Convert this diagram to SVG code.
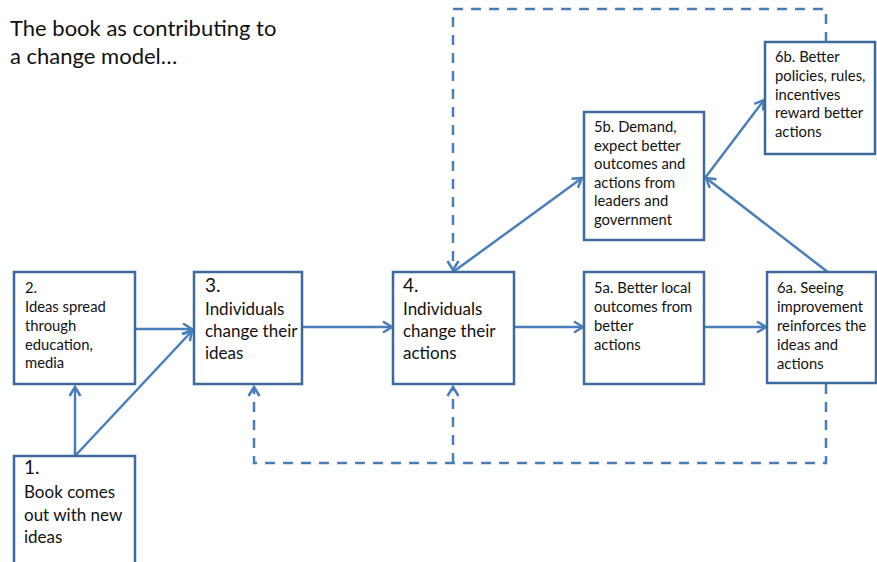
<svg xmlns="http://www.w3.org/2000/svg" width="877" height="562" viewBox="0 0 877 562">
<defs>
<marker id="ah" markerUnits="userSpaceOnUse" markerWidth="14" markerHeight="14" viewBox="0 0 14 14" refX="11" refY="7" orient="auto">
<path d="M2,1.5 L11,7 L2,12.5" fill="none" stroke="#4a7ebb" stroke-width="2.5" stroke-linejoin="miter"/>
</marker>
</defs>
<style>
.box{fill:#fff;stroke:#3c6a9c;stroke-width:2.5}
.c{fill:none;stroke:#4a7ebb;stroke-width:2.5}
.d{fill:none;stroke:#4a7ebb;stroke-width:2.5;stroke-dasharray:10 8}
text{font-family:Lato,"Open Sans","Liberation Sans",sans-serif;fill:#111}
.t{font-size:22px}
.l{font-size:17px}
.n{font-size:19px}
.s{font-size:14.8px}
</style>
<rect width="877" height="562" fill="#fff"/>
<text class="t" x="10" y="36">The book as contributing to</text>
<text class="t" x="10" y="64">a change model…</text>

<g id="connectors">
<path class="c" d="M75,456 L75,387" marker-end="url(#ah)"/>
<path class="c" d="M75,456 L192,331" marker-end="url(#ah)"/>
<path class="c" d="M135,329 L192,329" marker-end="url(#ah)"/>
<path class="c" d="M302,327 L392,327" marker-end="url(#ah)"/>
<path class="c" d="M514,327 L583,327" marker-end="url(#ah)"/>
<path class="c" d="M704,327 L766,327" marker-end="url(#ah)"/>
<path class="c" d="M453,272 L582,178" marker-end="url(#ah)"/>
<path class="c" d="M705,178 L764,100" marker-end="url(#ah)"/>
<path class="c" d="M829,273 L706,178" marker-end="url(#ah)"/>
<path class="d" d="M826,42 L826,9 L453,9 L453,270" marker-end="url(#ah)"/>
<path class="d" d="M826,384 L826,463 L254,463 L254,387" marker-end="url(#ah)"/>
<path class="d" d="M453,463 L453,387" marker-end="url(#ah)"/>
</g>

<g id="n1">
<rect class="box" x="14" y="456" width="121" height="120"/>
<text class="n" x="24" y="474">1.</text>
<text class="l" x="24" y="498">Book comes</text>
<text class="l" x="24" y="521">out with new</text>
<text class="l" x="24" y="543">ideas</text>
</g>
<g id="n2">
<rect class="box" x="14" y="272" width="121" height="112"/>
<text class="s" x="25" y="293">2.</text>
<text class="s" x="25" y="312">Ideas spread</text>
<text class="s" x="25" y="331">through</text>
<text class="s" x="25" y="350">education,</text>
<text class="s" x="25" y="368">media</text>
</g>
<g id="n3">
<rect class="box" x="194" y="272" width="108" height="112"/>
<text class="n" x="205" y="292">3.</text>
<text class="l" x="205" y="315">Individuals</text>
<text class="l" x="205" y="337">change their</text>
<text class="l" x="205" y="359">ideas</text>
</g>
<g id="n4">
<rect class="box" x="393" y="272" width="121" height="112"/>
<text class="n" x="403" y="292">4.</text>
<text class="l" x="403" y="315">Individuals</text>
<text class="l" x="403" y="337">change their</text>
<text class="l" x="403" y="359">actions</text>
</g>
<g id="n5a">
<rect class="box" x="584" y="272" width="120" height="112"/>
<text class="s" x="594" y="293">5a. Better local</text>
<text class="s" x="594" y="312">outcomes  from</text>
<text class="s" x="594" y="331">better</text>
<text class="s" x="594" y="350">actions</text>
</g>
<g id="n6a">
<rect class="box" x="767" y="272" width="109" height="111"/>
<text class="s" x="777" y="293">6a. Seeing</text>
<text class="s" x="777" y="312">improvement</text>
<text class="s" x="777" y="331">reinforces the</text>
<text class="s" x="777" y="350">ideas and</text>
<text class="s" x="777" y="369">actions</text>
</g>
<g id="n5b">
<rect class="box" x="584" y="112" width="120" height="128"/>
<text class="s" x="594" y="132">5b. Demand,</text>
<text class="s" x="594" y="151">expect better</text>
<text class="s" x="594" y="169">outcomes  and</text>
<text class="s" x="594" y="188">actions from</text>
<text class="s" x="594" y="206">leaders and</text>
<text class="s" x="594" y="225">government</text>
</g>
<g id="n6b">
<rect class="box" x="765" y="42" width="110" height="112"/>
<text class="s" x="775" y="62">6b. Better</text>
<text class="s" x="775" y="81">policies, rules,</text>
<text class="s" x="775" y="100">incentives</text>
<text class="s" x="775" y="118">reward better</text>
<text class="s" x="775" y="137">actions</text>
</g>
</svg>
